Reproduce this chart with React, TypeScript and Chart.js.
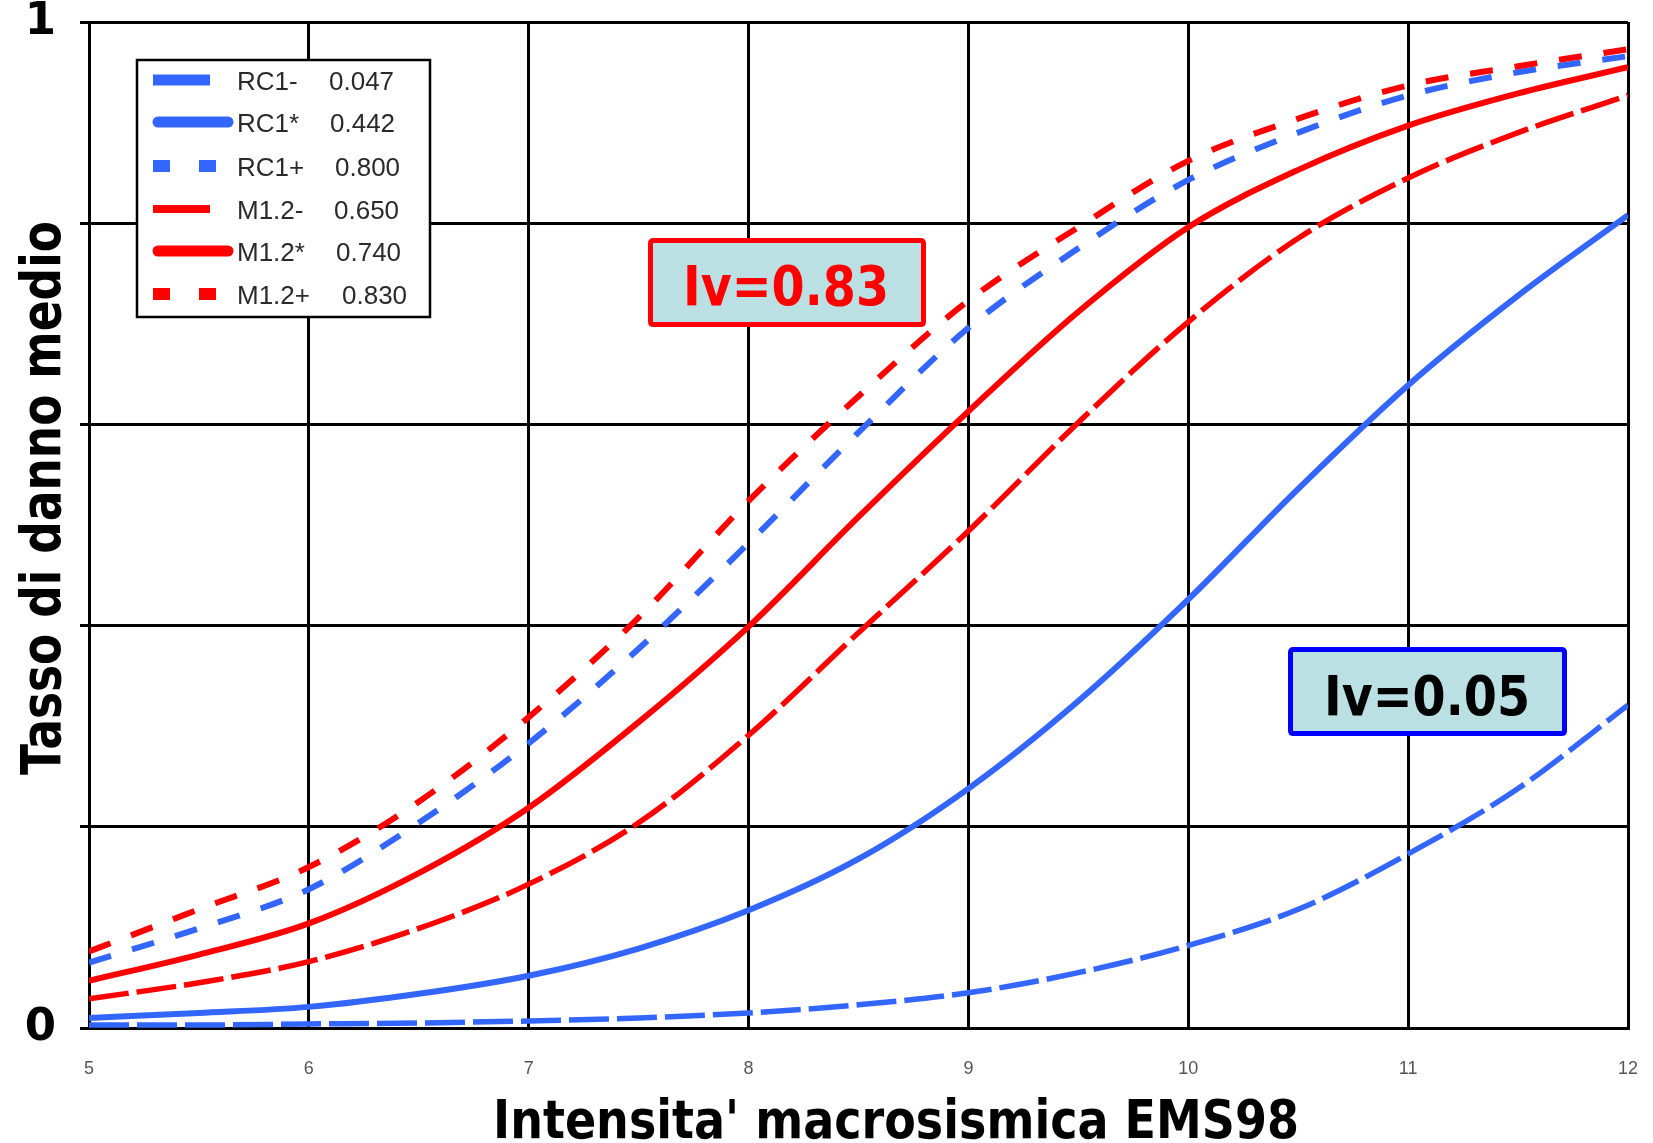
import React, { useEffect, useRef } from 'react';
import { Chart, registerables } from 'chart.js';

Chart.register(...registerables);

// ---- Data ----
const intensity = [5, 5.5, 6, 6.5, 7, 7.5, 8, 8.5, 9, 9.5, 10, 10.5, 11, 11.5, 12];
const rc1Minus = [0.003, 0.003, 0.004, 0.005, 0.007, 0.010, 0.015, 0.023, 0.035, 0.055, 0.082, 0.118, 0.173, 0.238, 0.321];
const rc1Star = [0.010, 0.015, 0.021, 0.034, 0.052, 0.079, 0.117, 0.168, 0.238, 0.325, 0.426, 0.536, 0.639, 0.728, 0.808];
const rc1Plus = [0.065, 0.099, 0.138, 0.204, 0.283, 0.377, 0.482, 0.592, 0.696, 0.775, 0.843, 0.890, 0.927, 0.950, 0.966];
const m12Minus = [0.029, 0.045, 0.066, 0.099, 0.143, 0.204, 0.291, 0.393, 0.494, 0.602, 0.702, 0.785, 0.845, 0.890, 0.927];
const m12Star = [0.047, 0.073, 0.104, 0.154, 0.219, 0.304, 0.399, 0.508, 0.613, 0.712, 0.796, 0.853, 0.897, 0.929, 0.955];
const m12Plus = [0.076, 0.118, 0.160, 0.225, 0.309, 0.408, 0.524, 0.628, 0.723, 0.796, 0.862, 0.904, 0.937, 0.956, 0.973];

const legendNames = ['RC1-', 'RC1*', 'RC1+', 'M1.2-', 'M1.2*', 'M1.2+'];
const legendValues = ['0.047', '0.442', '0.800', '0.650', '0.740', '0.830'];
const yTickText: Record<string, string> = { '0': '0', '1': '1' };
const xTitle = "Intensita' macrosismica EMS98";
const yTitle = 'Tasso di danno medio';
const noteRed = 'Iv=0.83';
const noteBlue = 'Iv=0.05';

const BLUE = '#3366FF';
const RED = '#FF0000';
const TITLE_FONT = '"DejaVu Sans"';

const pts = (ys: number[]) => intensity.map((x, i) => ({ x, y: ys[i] }));

function fittedText(
  ctx: CanvasRenderingContext2D,
  text: string,
  x: number,
  y: number,
  size: number,
  targetW: number,
  color: string,
  rotate = 0
) {
  ctx.save();
  ctx.font = `bold ${size}px ${TITLE_FONT}`;
  const w = ctx.measureText(text).width;
  ctx.translate(x, y);
  if (rotate) ctx.rotate(rotate);
  ctx.scale(targetW / w, 1);
  ctx.textAlign = 'center';
  ctx.textBaseline = 'alphabetic';
  ctx.fillStyle = color;
  ctx.fillText(text, 0, 0);
  ctx.restore();
}

function roundRect(ctx: CanvasRenderingContext2D, x: number, y: number, w: number, h: number, r: number) {
  ctx.beginPath();
  ctx.moveTo(x + r, y);
  ctx.lineTo(x + w - r, y);
  ctx.quadraticCurveTo(x + w, y, x + w, y + r);
  ctx.lineTo(x + w, y + h - r);
  ctx.quadraticCurveTo(x + w, y + h, x + w - r, y + h);
  ctx.lineTo(x + r, y + h);
  ctx.quadraticCurveTo(x, y + h, x, y + h - r);
  ctx.lineTo(x, y + r);
  ctx.quadraticCurveTo(x, y, x + r, y);
  ctx.closePath();
}

const overlayPlugin = {
  id: 'overlay',
  afterDraw(chart: any) {
    const ctx: CanvasRenderingContext2D = chart.ctx;

    // Axis titles
    fittedText(ctx, xTitle, 896, 1138, 53, 806, '#000');
    fittedText(ctx, yTitle, 60, 498, 56, 554, '#000', -Math.PI / 2);

    // Legend box
    ctx.save();
    ctx.fillStyle = '#fff';
    ctx.fillRect(137, 60, 293, 257);
    ctx.lineWidth = 2.5;
    ctx.strokeStyle = '#000';
    ctx.strokeRect(137, 60, 293, 257);

    const rowsY = [80, 122, 166, 209, 251, 294];
    const kinds = ['bar', 'round', 'squares', 'bar', 'round', 'squares'];
    const colors = [BLUE, BLUE, BLUE, RED, RED, RED];
    const barH = [11, 0, 0, 8, 0, 0];
    const valueX = [329, 330, 335, 334, 336, 342];
    rowsY.forEach((y, i) => {
      ctx.fillStyle = colors[i];
      ctx.strokeStyle = colors[i];
      if (kinds[i] === 'bar') {
        ctx.fillRect(153, y - barH[i] / 2, 57, barH[i]);
      } else if (kinds[i] === 'round') {
        ctx.beginPath();
        ctx.lineCap = 'round';
        ctx.lineWidth = 11;
        ctx.moveTo(158, y);
        ctx.lineTo(228, y);
        ctx.stroke();
      } else {
        ctx.fillRect(153, y - 6, 17, 12);
        ctx.fillRect(199, y - 6, 17, 12);
      }
      ctx.fillStyle = '#2a2a2a';
      ctx.font = '26px "Liberation Sans"';
      ctx.textAlign = 'left';
      ctx.textBaseline = 'middle';
      ctx.fillText(legendNames[i], 237, y + 3);
      ctx.fillText(legendValues[i], valueX[i], y + 3);
    });
    ctx.restore();

    // Annotation boxes
    const notes = [
      { text: noteRed, x: 648, y: 238, w: 278, h: 89, border: RED, color: RED, cx: 786, base: 305 },
      { text: noteBlue, x: 1288, y: 647, w: 279, h: 89, border: '#0000FF', color: '#000', cx: 1427, base: 715 },
    ];
    notes.forEach((n) => {
      ctx.save();
      roundRect(ctx, n.x + 2.5, n.y + 2.5, n.w - 5, n.h - 5, 3);
      ctx.fillStyle = '#BAE0E4';
      ctx.fill();
      ctx.lineWidth = 5;
      ctx.strokeStyle = n.border;
      ctx.stroke();
      ctx.restore();
      fittedText(ctx, n.text, n.cx, n.base, 55, 206, n.color);
    });
  },
};

export default function App() {
  const ref = useRef<HTMLCanvasElement>(null);

  useEffect(() => {
    if (!ref.current) return;
    Chart.defaults.font.family = '"Liberation Sans", Arial, sans-serif';
    const common = {
      pointRadius: 0,
      pointHoverRadius: 0,
      fill: false,
      cubicInterpolationMode: 'monotone' as const,
      borderCapStyle: 'butt' as const,
    };
    const chart = new Chart(ref.current, {
      type: 'line',
      data: {
        datasets: [
          { ...common, label: 'M1.2+', data: pts(m12Plus), borderColor: RED, borderWidth: 6, borderDash: [23, 22] },
          { ...common, label: 'M1.2*', data: pts(m12Star), borderColor: RED, borderWidth: 6 },
          { ...common, label: 'M1.2-', data: pts(m12Minus), borderColor: RED, borderWidth: 5.5, borderDash: [40, 8] },
          { ...common, label: 'RC1+', data: pts(rc1Plus), borderColor: BLUE, borderWidth: 6, borderDash: [23, 22] },
          { ...common, label: 'RC1*', data: pts(rc1Star), borderColor: BLUE, borderWidth: 6 },
          { ...common, label: 'RC1-', data: pts(rc1Minus), borderColor: BLUE, borderWidth: 5.5, borderDash: [40, 8] },
        ],
      },
      options: {
        responsive: false,
        animation: false,
        layout: { padding: { top: 22, right: 25, left: 0, bottom: 0 } },
        plugins: { legend: { display: false }, tooltip: { enabled: false } },
        scales: {
          x: {
            type: 'linear',
            min: 5,
            max: 12,
            afterFit: (s: any) => {
              s.height = 115;
              s.paddingLeft = 0;
              s.paddingRight = 0;
            },
            ticks: { stepSize: 1, color: '#555', font: { size: 18 }, padding: 30, maxRotation: 0 },
            grid: { color: '#000', lineWidth: 3, drawTicks: false },
            border: { color: '#000', width: 3 },
          },
          y: {
            min: 0,
            max: 1,
            afterFit: (s: any) => {
              s.width = 89;
              s.paddingTop = 0;
              s.paddingBottom = 0;
            },
            ticks: {
              stepSize: 0.2,
              color: '#000',
              padding: 24,
              font: { size: 45, weight: 'bold', family: TITLE_FONT },
              callback: (v: any) => yTickText[String(v)] ?? '',
            },
            grid: { color: '#000', lineWidth: 3, tickLength: 9 },
            border: { color: '#000', width: 3 },
          },
        },
      },
      plugins: [overlayPlugin],
    });
    return () => chart.destroy();
  }, []);

  return (
    <div style={{ position: 'fixed', left: 0, top: 0, width: 1653, height: 1143, background: '#fff' }}>
      <canvas ref={ref} width={1653} height={1143} style={{ display: 'block' }} />
    </div>
  );
}
